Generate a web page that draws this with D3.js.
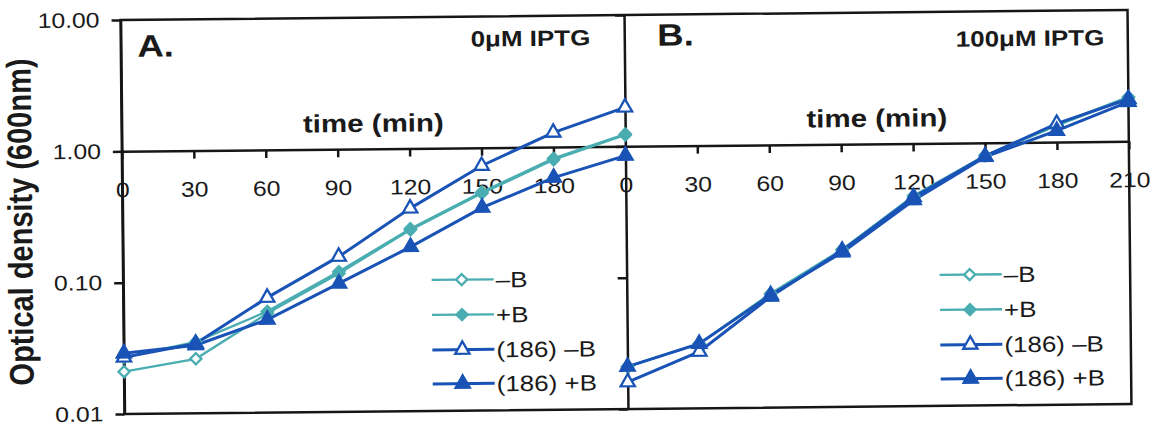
<!DOCTYPE html>
<meta charset="utf-8">
<style>
body { margin: 0; background: #fff; }
svg { font-family: "Liberation Sans", Arial, sans-serif; background: #fff; }
.frame { fill: none; stroke: #161616; stroke-width: 2.5px; }
.axis path, .axis line { stroke: #161616; stroke-width: 2.5px; }
.axis text { font-size: 21px; fill: #1a1a1a; font-family: "Liberation Sans", Arial, sans-serif; }
.series { fill: none; }
</style>
<svg width="1155" height="432"></svg>
<script src="https://cdnjs.cloudflare.com/ajax/libs/d3/7.8.5/d3.min.js"></script>
<script>
var times = [0, 30, 60, 90, 120, 150, 180, 210];
var seriesNames = ["–B", "+B", "(186) –B", "(186) +B"];
var yTicks = [0.01, 0.1, 1, 10];

// panel A, 0uM IPTG
var aMinusB    = [0.021, 0.026, 0.057, 0.113, 0.24, 0.45, 0.80, 1.22];
var aPlusB     = [0.027, 0.035, 0.059, 0.117, 0.245, 0.46, 0.82, 1.24];
var a186MinusB = [0.027, 0.034, 0.075, 0.152, 0.35, 0.73, 1.29, 1.98];
var a186PlusB  = [0.029, 0.033, 0.051, 0.095, 0.178, 0.35, 0.585, 0.85];

// panel B, 100uM IPTG
var bMinusB    = [0.021, 0.031, 0.073, 0.157, 0.40, 0.80, 1.35, 2.18];
var bPlusB     = [0.021, 0.031, 0.074, 0.158, 0.39, 0.80, 1.33, 2.15];
var b186MinusB = [0.016, 0.027, 0.070, 0.155, 0.39, 0.79, 1.38, 2.10];
var b186PlusB  = [0.021, 0.031, 0.072, 0.150, 0.37, 0.78, 1.22, 2.00];

var teal = "#4aadb1", blue = "#1a53b6";
var styles = [
  {color: teal, shape: "diamond", filled: false, width: 2.3},
  {color: teal, shape: "diamond", filled: true, width: 2.3},
  {color: blue, shape: "triangle", filled: false, width: 3},
  {color: blue, shape: "triangle", filled: true, width: 3}
];

var svg = d3.select("svg");
// the scanned figure is a little tilted
var g = svg.append("g").attr("transform", "rotate(-0.57,626,212)");

var y = d3.scaleLog().domain([0.01, 10]).range([409, 15]);
var xA = d3.scaleLinear().domain([0, 210]).range([122.5, 626]);
var xB = d3.scaleLinear().domain([0, 210]).range([626, 1129.5]);

var stretch = 1.18;
function label(x, yy, txt, size, bold, anchor) {
  return g.append("text")
    .attr("transform", "translate(" + x + "," + yy + ") scale(" + stretch + ",1)")
    .attr("text-anchor", anchor || "start")
    .style("font-size", size + "px")
    .style("font-weight", bold ? "bold" : "normal")
    .style("fill", "#1a1a1a")
    .text(txt);
}

function symbolPath(shape) {
  if (shape == "diamond") return d3.symbol().type(d3.symbolSquare).size(62)();
  return d3.symbol().type(d3.symbolTriangle).size(88)();
}

// frame
g.append("rect").attr("class", "frame")
  .attr("x", xA(0)).attr("y", y(10))
  .attr("width", xB(210) - xA(0)).attr("height", y(0.01) - y(10));

// y axes
var yAxisA = g.append("g").attr("class", "axis")
  .attr("transform", "translate(" + xA(0) + ",0)")
  .call(d3.axisLeft(y).tickValues(yTicks).tickFormat(d3.format(".2f")).tickSize(9).tickSizeOuter(0));
yAxisA.selectAll("text").attr("x", -21 / stretch).attr("transform", "scale(" + stretch + ",1)");

g.append("g").attr("class", "axis")
  .attr("transform", "translate(" + xB(0) + ",0)")
  .call(d3.axisLeft(y).tickValues(yTicks).tickFormat("").tickSize(9).tickSizeOuter(0));

// x axes on the 1.00 line
function xAxis(scale, lastLabel) {
  var ax = g.append("g").attr("class", "axis")
    .attr("transform", "translate(0," + y(1) + ")")
    .call(d3.axisBottom(scale).tickValues(times).tickSize(8).tickSizeOuter(0)
      .tickFormat(function(t) { return (t == 210 && !lastLabel) ? "" : t; }));
  ax.selectAll("text").attr("y", 31).attr("transform", "scale(" + stretch + ",1)");
}
xAxis(xA, false);
xAxis(xB, true);

// series
function drawPanel(x, data) {
  var line = d3.line()
    .x(function(d, i) { return x(times[i]); })
    .y(function(d) { return y(d); });
  data.forEach(function(vals, k) {
    var s = styles[k];
    g.append("path").attr("class", "series")
      .attr("d", line(vals))
      .attr("stroke", s.color).attr("stroke-width", s.width);
  });
  data.forEach(function(vals, k) {
    var s = styles[k];
    g.selectAll(null).data(vals).enter().append("path")
      .attr("d", symbolPath(s.shape))
      .attr("transform", function(d, i) {
        return "translate(" + x(times[i]) + "," + y(d) + ")" + (s.shape == "diamond" ? " rotate(45)" : "");
      })
      .attr("fill", s.filled ? s.color : "#fff")
      .attr("stroke", s.color).attr("stroke-width", 2.3);
  });
}
drawPanel(xA, [aMinusB, aPlusB, a186MinusB, a186PlusB]);
drawPanel(xB, [bMinusB, bPlusB, b186MinusB, b186PlusB]);

// legends
var legendRows = [278, 313, 348, 382];
function legend(x0) {
  seriesNames.forEach(function(name, k) {
    var s = styles[k], ly = legendRows[k];
    g.append("line").attr("x1", x0).attr("x2", x0 + 62).attr("y1", ly).attr("y2", ly)
      .attr("stroke", s.color).attr("stroke-width", s.width);
    g.append("path").attr("d", symbolPath(s.shape))
      .attr("transform", "translate(" + (x0 + 30) + "," + ly + ")" + (s.shape == "diamond" ? " rotate(45)" : ""))
      .attr("fill", s.filled ? s.color : "#fff")
      .attr("stroke", s.color).attr("stroke-width", 2.3);
    label(x0 + 64, ly + 8, name, 22, false);
  });
}
legend(431);
legend(939);

// titles
label(139, 52, "A.", 31, true);
label(659, 46, "B.", 31, true);
label(592, 45, "0\u03bcM IPTG", 22, true, "end");
label(1106, 50, "100\u03bcM IPTG", 22, true, "end");
label(xA(105), y(1) - 17, "time (min)", 25, true, "middle");
label(xB(105), y(1) - 17, "time (min)", 25, true, "middle");

g.append("text")
  .attr("transform", "translate(32,216) rotate(-90) scale(1," + stretch + ")")
  .attr("text-anchor", "middle")
  .style("font-size", "29px").style("font-weight", "bold").style("fill", "#1a1a1a")
  .text("Optical density (600nm)");
</script>
